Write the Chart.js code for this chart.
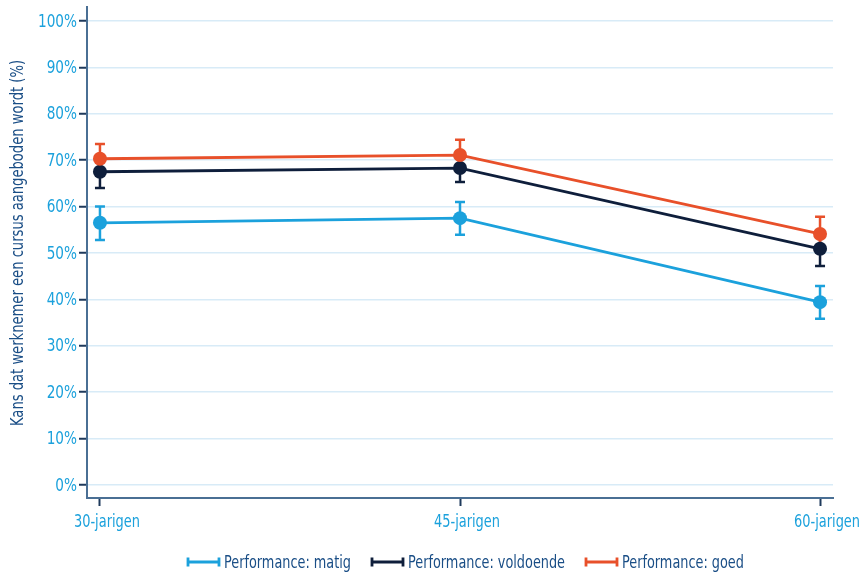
<!DOCTYPE html>
<html><head><meta charset="utf-8">
<script src="https://cdn.jsdelivr.net/npm/chart.js@4"></script>
<style>html,body{margin:0;padding:0;background:#fff}#wrap{width:862px;height:574px;position:relative}</style>
</head><body><div id="wrap"><canvas id="c" width="862" height="574"></canvas></div>
<script>
const categories = ['30-jarigen', '45-jarigen', '60-jarigen'];
const yTicks = [0, 10, 20, 30, 40, 50, 60, 70, 80, 90, 100];
const seriesNames = ['Performance: matig', 'Performance: voldoende', 'Performance: goed'];
const yTitle = 'Kans dat werknemer een cursus aangeboden wordt (%)';
const matig = [56.5, 57.5, 39.4];
const matigLow = [52.8, 53.9, 35.8];
const matigHigh = [60.0, 61.0, 42.9];
const voldoende = [67.5, 68.3, 50.9];
const voldoendeLow = [64.0, 65.3, 47.2];
const voldoendeHigh = [70.9, 71.5, 54.4];
const goed = [70.3, 71.1, 54.1];
const goedLow = [67.1, 67.8, 50.4];
const goedHigh = [73.5, 74.4, 57.8];

const colors = ['#1BA1DC', '#0E1E3B', '#E8502A'];
const TICK_COLOR = '#1BA1DC';
const TEXT_DARK = '#1A4E86';
const FONT = "'DejaVu Sans Condensed', 'Liberation Sans Narrow', sans-serif";
const vals = [matig, voldoende, goed];
const lows = [matigLow, voldoendeLow, goedLow];
const highs = [matigHigh, voldoendeHigh, goedHigh];

const datasets = vals.map((v, i) => ({
  label: seriesNames[i],
  data: v.map((y, k) => ({x: k, y: y})),
  low: lows[i], high: highs[i],
  order: 2 - i,
  borderColor: colors[i], backgroundColor: colors[i],
  pointBackgroundColor: colors[i], pointBorderColor: colors[i],
  borderWidth: 2.8, pointRadius: 7, pointHoverRadius: 7, pointBorderWidth: 0, tension: 0
}));

const errorBars = {
  id: 'errorBars',
  beforeDatasetsDraw(chart) {
    const ctx = chart.ctx, xs = chart.scales.x, ys = chart.scales.y;
    ctx.save();
    chart.data.datasets.forEach(ds => {
      ctx.strokeStyle = ds.borderColor; ctx.lineWidth = 2.5;
      ds.data.forEach((p, k) => {
        const px = xs.getPixelForValue(p.x);
        const yl = ys.getPixelForValue(ds.low[k]), yh = ys.getPixelForValue(ds.high[k]);
        ctx.beginPath();
        ctx.moveTo(px, yl); ctx.lineTo(px, yh);
        ctx.moveTo(px - 5, yl); ctx.lineTo(px + 5, yl);
        ctx.moveTo(px - 5, yh); ctx.lineTo(px + 5, yh);
        ctx.stroke();
      });
    });
    ctx.restore();
  }
};

// draw text condensed horizontally (text baseline-relative coordinates)
function drawText(ctx, text, x, y, size, sx, align, color) {
  ctx.save();
  ctx.font = size + 'px ' + FONT;
  ctx.fillStyle = color;
  ctx.textBaseline = 'middle';
  ctx.textAlign = align;
  ctx.translate(x, y);
  ctx.scale(sx, 1);
  ctx.fillText(text, 0, 0);
  ctx.restore();
}
function fitScale(ctx, text, size, target) {
  ctx.font = size + 'px ' + FONT;
  return target / ctx.measureText(text).width;
}

const decorPlugin = {
  id: 'decor',
  afterDraw(chart) {
    const ctx = chart.ctx;
    const xs = chart.scales.x, ys = chart.scales.y;
    // y tick labels
    const sy = fitScale(ctx, '100%', 18, 39);
    ys.ticks.forEach(t => {
      drawText(ctx, t.value + '%', 77, ys.getPixelForValue(t.value) + 1, 18, sy, 'right', TICK_COLOR);
    });
    // x tick labels
    const sxl = fitScale(ctx, categories[2], 18, 66);
    xs.ticks.forEach(t => {
      drawText(ctx, categories[t.value], xs.getPixelForValue(t.value) + 7, 522, 18, sxl, 'center', TICK_COLOR);
    });
    // legend
    const sl = fitScale(ctx, seriesNames[0], 18.5, 127);
    const y = 562, mw = 33;
    const starts = [187, 371, 585];
    seriesNames.forEach((n, i) => {
      const x = starts[i];
      ctx.save();
      ctx.strokeStyle = colors[i]; ctx.lineWidth = 2.8;
      ctx.beginPath();
      ctx.moveTo(x, y); ctx.lineTo(x + mw, y);
      ctx.moveTo(x + 1, y - 4.5); ctx.lineTo(x + 1, y + 4.5);
      ctx.moveTo(x + mw - 1, y - 4.5); ctx.lineTo(x + mw - 1, y + 4.5);
      ctx.stroke();
      ctx.restore();
      drawText(ctx, n, x + mw + 4, y + 1, 18.5, sl, 'left', TEXT_DARK);
    });
    // y title
    const st = fitScale(ctx, yTitle, 17.5, 366);
    ctx.save();
    ctx.translate(18, 243);
    ctx.rotate(-Math.PI / 2);
    drawText(ctx, yTitle, 0, 0, 17.5, st, 'center', TEXT_DARK);
    ctx.restore();
  }
};

new Chart(document.getElementById('c'), {
  type: 'line',
  data: { datasets },
  plugins: [errorBars, decorPlugin],
  options: {
    responsive: false, animation: false,
    layout: { padding: { top: 7, right: 29, left: 0, bottom: 0 } },
    plugins: { legend: { display: false }, tooltip: { enabled: false } },
    scales: {
      x: {
        type: 'linear', min: -0.036, max: 2.036,
        afterBuildTicks: s => { s.ticks = [0, 1, 2].map(v => ({value: v})); },
        afterFit: s => { s.height = 76; },
        ticks: { display: false },
        grid: { drawOnChartArea: false, tickLength: 8, tickColor: '#1F3A5C', tickWidth: 2 },
        border: { color: '#4A6F94', width: 2 }
      },
      y: {
        min: -2.8, max: 103,
        afterBuildTicks: s => { s.ticks = yTicks.map(v => ({value: v})); },
        afterFit: s => { s.width = 87; },
        ticks: { display: false },
        grid: { color: '#D8EBF7', lineWidth: 1.5, tickLength: 8, tickColor: '#1F3A5C', tickWidth: 2 },
        border: { color: '#4A6F94', width: 2 }
      }
    }
  }
});
</script></body></html>
